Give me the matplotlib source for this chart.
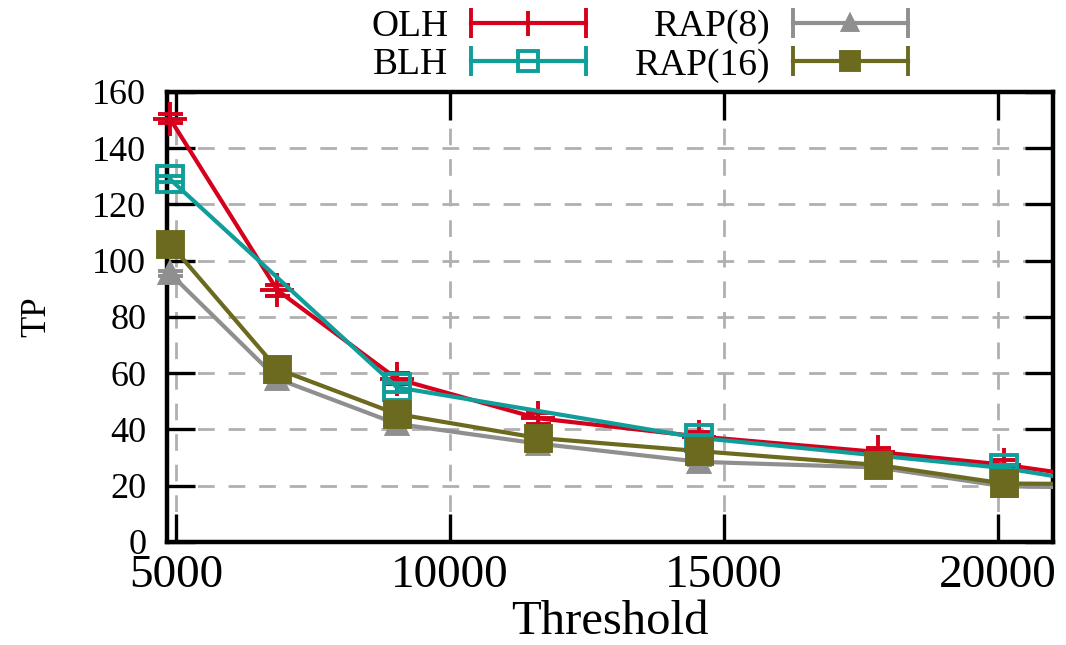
import numpy as np
import matplotlib
matplotlib.use("Agg")
import matplotlib.pyplot as plt
from matplotlib.legend_handler import HandlerLine2D
from matplotlib.lines import Line2D

plt.rcParams['font.family'] = ['Liberation Serif', 'DejaVu Serif']

# data (last point lies past the right border)
thr = [4890, 6850, 9030, 11600, 14550, 17800, 20100, 22500]
olh = [150.5, 89.5, 58, 44, 37.5, 32, 27.5, 20.8]
olh_err = [1.5, 2, 2, 2, 1.5, 1.5, 1.5, 1.5]
thr_blh = [4890, 9030, 14550, 20100, 22500]
blh = [129, 55, 37, 26.3, 18.8]
blh_err = [1, 1.5, 1, 1, 1]
rap8 = [95.5, 58, 42, 35, 28.5, 26.5, 19.8, 19.2]
rap8_err = [1, 1, 1, 1, 1, 1, 1, 1]
rap16 = [106, 61.5, 45.5, 37, 32.3, 27.4, 20.8, 20.5]
rap16_err = [1.5, 1.5, 1.5, 1.5, 1.5, 1.5, 1.5, 1.5]

labels = ['OLH', 'BLH', 'RAP(8)', 'RAP(16)']
colors = ['#d6001c', '#0f9e9a', '#8f8f8f', '#6b6a1e']

xmin, xmax = 4836, 21000


class CapHandler(HandlerLine2D):
    # gnuplot-like key sample: line, point and end bars
    def create_artists(self, legend, orig_handle, xdescent, ydescent,
                       width, height, fontsize, trans):
        arts = super().create_artists(legend, orig_handle, xdescent, ydescent,
                                      width, height, fontsize, trans)
        xdata, _ = self.get_xdata(legend, xdescent, ydescent, width, height, fontsize)
        y = (height - ydescent) / 2
        caps = Line2D([xdata[0], xdata[-1]], [y, y], linestyle='none',
                      marker='|', markersize=22, markeredgewidth=2.8,
                      color=orig_handle.get_color())
        caps.set_transform(trans)
        return arts + [caps]


fig = plt.figure(figsize=(10.66, 6.45), dpi=100)
ax = fig.add_axes([0.1567, 0.1597, 0.9878 - 0.1567, 0.8574 - 0.1597])

series = [
    (thr, olh, olh_err, '+', 24, 'none'),
    (thr_blh, blh, blh_err, 's', 19, 'none'),
    (thr, rap8, rap8_err, '^', 14, None),
    (thr, rap16, rap16_err, 's', 18, None),
]
order = [2, 3, 1, 0]
handles = [None] * 4
for i in order:
    xs, ys, es, mk, ms, mfc = series[i]
    c = colors[i]
    xs = np.array(xs)
    ys = np.array(ys)
    es = np.array(es)
    ax.plot(xs, ys, color=c, lw=3, zorder=3 + i)
    m = xs <= xmax
    cont = ax.errorbar(xs[m], ys[m], yerr=es[m], fmt=mk, color=c, ms=ms,
                       mfc=c if mfc is None else mfc, mec=c, mew=2.8,
                       elinewidth=2.5, capsize=9, capthick=2.5, zorder=3 + i)
    for a in cont.get_children():
        a.set_clip_on(False)
    handles[i] = Line2D([], [], color=c, lw=3, marker=mk, ms=ms * 0.75,
                        mfc=c if mfc is None else mfc, mec=c, mew=2.8)

ax.set_xlim(xmin, xmax)
ax.set_ylim(0, 160)
ax.set_xticks([5000, 10000, 15000, 20000])
ax.set_yticks(np.arange(0, 161, 20))
ax.tick_params(axis='both', direction='in', length=20, width=2.4,
               top=True, right=True)
ax.tick_params(axis='x', labelsize=34, pad=9)
ax.tick_params(axis='y', labelsize=26, pad=15)
for s in ax.spines.values():
    s.set_linewidth(3.2)
ax.grid(True, color='#b0b0b0', lw=2, linestyle=(0, (6, 5)))
ax.set_axisbelow(True)

ax.set_xlabel('Threshold', fontsize=35, labelpad=2)
ax.set_ylabel('TP', fontsize=25, labelpad=28)

fig.legend(handles=handles, labels=labels, ncol=2, loc='upper center',
           bbox_to_anchor=(0.6, 0.988), borderaxespad=0, borderpad=0.05,
           frameon=False, fontsize=27,
           markerfirst=False, numpoints=1, handlelength=3.07,
           handletextpad=0.6, columnspacing=1.3, labelspacing=0.1,
           handler_map={Line2D: CapHandler()})

fig.savefig('out.png', dpi=100)
